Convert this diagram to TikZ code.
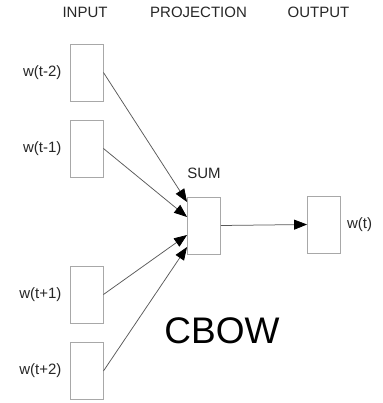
\documentclass[tikz,border=0pt]{standalone}
\usepackage{fontspec}
\setmainfont{Liberation Sans}
\usepackage{tikz}
\usetikzlibrary{positioning,arrows.meta}

\definecolor{boxgray}{gray}{0.66}
\definecolor{linegray}{gray}{0.35}
\definecolor{textgray}{gray}{0.15}

\tikzset{
  wordbox/.style={draw=boxgray, line width=0.9pt, minimum width=33pt, minimum height=57pt, inner sep=0pt},
  lbl/.style={text=textgray, inner sep=0pt, font=\fontsize{15}{18}\selectfont},
  conn/.style={draw=linegray, line width=0.75pt, -{Triangle[length=13pt,width=10pt,color=black]}}
}

\begin{document}
\begin{tikzpicture}[x=1pt,y=-1pt]
\useasboundingbox (0,0) rectangle (382,403);

\node at (85,12) [lbl] (hin) {INPUT};
\node at (198.5,12) [lbl] (hproj) {PROJECTION};
\node at (318.5,12) [lbl] (hout) {OUTPUT};

\node[wordbox] at (86.5,72.5) (in1) {};
\node[wordbox] at (86.5,148.5) (in2) {};
\node[wordbox] at (86.5,294.5) (in3) {};
\node[wordbox] at (86.5,371) (in4) {};
\node[wordbox] at (204,225.5) (sum) {};
\node[wordbox] at (324,224.5) (out) {};

\node[lbl, left=8pt of in1] (w1) {w(t-2)};
\node[lbl, left=8pt of in2] (w2) {w(t-1)};
\node[lbl, left=8pt of in3] (w3) {w(t+1)};
\node[lbl, left=8pt of in4] (w4) {w(t+2)};
\node[lbl, above=18pt of sum] (sumlbl) {SUM};
\node[lbl, right=6pt of out] (wt) {w(t)};

\node at (222,331) [inner sep=0pt, font=\fontsize{37}{40}\selectfont] (cbow) {CBOW};

%context words into the sum
\draw[conn] (in1.east) -- ([yshift=23.5pt]sum.west);
\draw[conn] (in2.east) -- ([yshift=8.5pt]sum.west);
\draw[conn] (in3.east) -- ([yshift=-9.5pt]sum.west);
\draw[conn] (in4.east) -- ([yshift=-21.5pt]sum.west);
\draw[conn] (sum.east) -- (out.west);
\end{tikzpicture}
\end{document}
